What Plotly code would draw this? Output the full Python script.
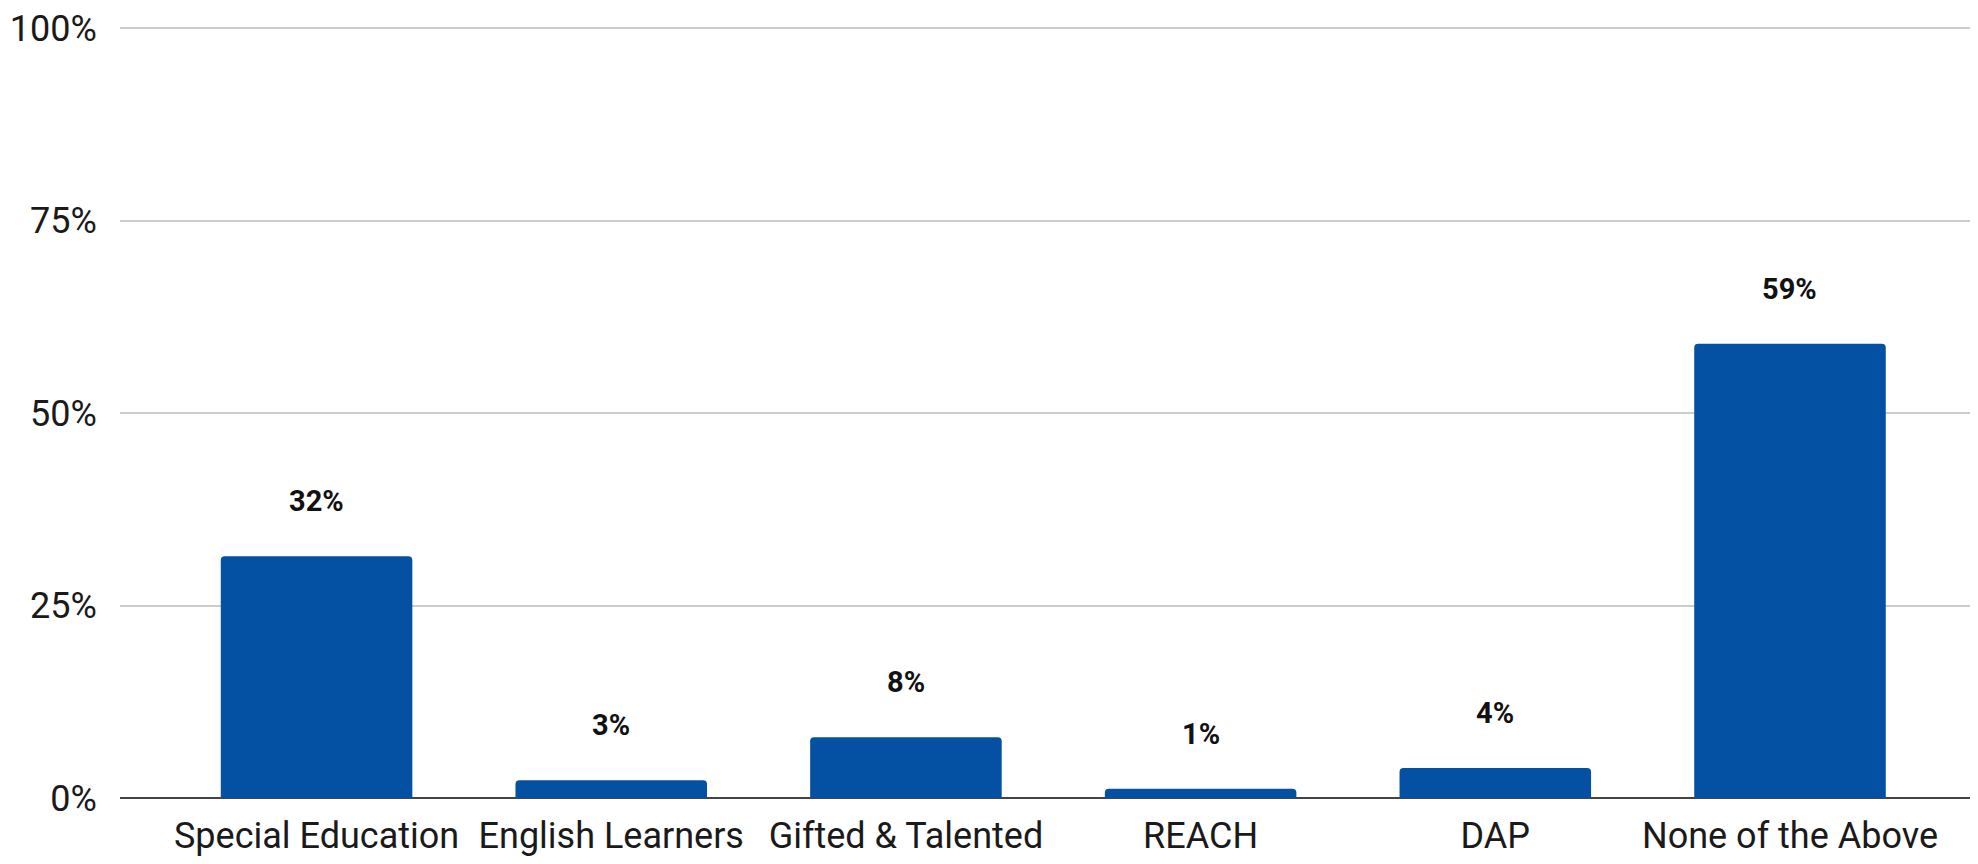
import plotly.graph_objects as go

categories = ["Special Education", "English Learners", "Gifted & Talented", "REACH", "DAP", "None of the Above"]
values = [31.4, 2.3, 7.9, 1.2, 3.9, 59.0]
labels = ["32%", "3%", "8%", "1%", "4%", "59%"]
tick_vals = [0, 25, 50, 75, 100]
tick_text = ["0%", "25%", "50%", "75%", "100%"]

BAR = "#0450A2"
FONT = "Roboto"

fig = go.Figure()
fig.add_trace(go.Bar(
    x=list(range(len(categories))), y=values, width=0.65,
    marker=dict(color=BAR, line=dict(width=0), cornerradius=4),
    hoverinfo="skip",
))
for i, (v, t) in enumerate(zip(values, labels)):
    fig.add_annotation(x=i, y=v, text="<b>" + t + "</b>", showarrow=False,
                       yshift=55, font=dict(family=FONT, size=29, color="#111111"))

fig.update_layout(
    width=1970, height=848,
    margin=dict(l=112, r=0, t=19, b=58),
    paper_bgcolor="white", plot_bgcolor="white",
    showlegend=False,
    font=dict(family=FONT, color="#222222"),
    xaxis=dict(
        range=[-0.667, 5.638], automargin=False,
        tickvals=list(range(len(categories))), ticktext=categories,
        tickfont=dict(family=FONT, size=36, color="#1a1a1a"),
        showgrid=False, zeroline=False, showline=False,
        ticks="outside", ticklen=6, tickcolor="rgba(0,0,0,0)",
    ),
    yaxis=dict(
        range=[0, 100.15], automargin=False, tickvals=tick_vals, ticktext=tick_text,
        ticklabeloverflow="allow",
        tickfont=dict(family=FONT, size=36, color="#1a1a1a"),
        showgrid=True, gridcolor="#cccccc", gridwidth=2,
        zeroline=True, zerolinecolor="#444444", zerolinewidth=2,
        showline=False, ticks="outside", ticklen=15, tickcolor="rgba(0,0,0,0)",
    ),
)
fig.write_html("out.html")
